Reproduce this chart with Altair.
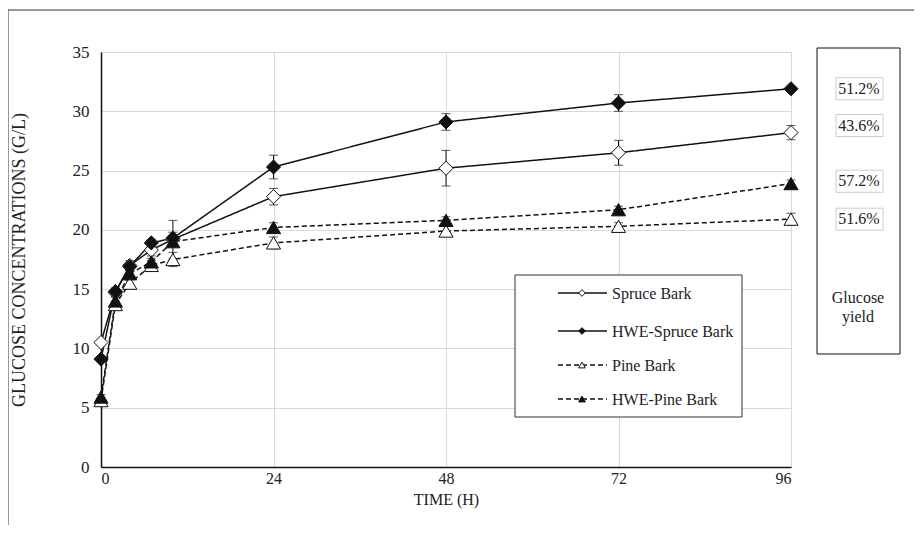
import altair as alt
import pandas as pd

# ---------------- data ----------------
times = [0, 2, 4, 7, 10, 24, 48, 72, 96]
series_names = ["Spruce Bark", "HWE-Spruce Bark", "Pine Bark", "HWE-Pine Bark"]
spruce = [10.5, 14.7, 17.0, 18.3, 19.2, 22.8, 25.2, 26.5, 28.2]
hwe_spruce = [9.1, 14.8, 16.9, 18.9, 19.3, 25.3, 29.1, 30.7, 31.9]
pine = [5.6, 13.7, 15.5, 17.0, 17.5, 18.9, 19.9, 20.3, 20.9]
hwe_pine = [5.9, 14.0, 16.3, 17.3, 19.0, 20.2, 20.8, 21.7, 23.9]
spruce_err = [0.2, 0.3, 0.4, 0.5, 1.6, 0.7, 1.5, 1.05, 0.6]
hwe_spruce_err = [0.2, 0.3, 0.3, 0.3, 0.5, 1.0, 0.7, 0.7, 0.2]
pine_err = [0.2, 0.3, 0.3, 0.4, 0.6, 0.5, 0.4, 0.3, 0.5]
hwe_pine_err = [0.2, 0.3, 0.3, 0.3, 0.4, 0.4, 0.3, 0.3, 0.3]

yield_labels = ["51.2%", "43.6%", "57.2%", "51.6%"]
yield_pos = [31.9, 28.8, 24.1, 20.9]

x_ticks = [0, 24, 48, 72, 96]
y_ticks = [0, 5, 10, 15, 20, 25, 30, 35]

FONT = "'Liberation Serif', 'Times New Roman', Times, serif"
TXT = "#222222"

rows = []
for name, vals, errs in zip(series_names,
                            [spruce, hwe_spruce, pine, hwe_pine],
                            [spruce_err, hwe_spruce_err, pine_err, hwe_pine_err]):
    for t, v, e in zip(times, vals, errs):
        rows.append({"series": name, "time": t, "value": v, "lo": v - e, "hi": v + e})
df = pd.DataFrame(rows)

ydf = pd.DataFrame({"label": yield_labels, "pos": yield_pos,
                    "lo": [p - 0.93 for p in yield_pos], "hi": [p + 0.93 for p in yield_pos]})

dash_range = [[1, 0], [1, 0], [5, 3], [5, 3]]
shape_range = ["diamond", "diamond", "triangle-up", "triangle-up"]
fill_range = ["white", "#111111", "white", "#111111"]

xs = alt.Scale(domain=[0, 96], nice=False, zero=False)
ys = alt.Scale(domain=[0, 35], nice=False)

X = alt.X("time:Q", scale=xs,
          axis=alt.Axis(values=x_ticks, title="TIME (H)", titlePadding=5,
                        labelFontSize=16, labelPadding=3))
Y = alt.Y("value:Q", scale=ys,
          axis=alt.Axis(values=y_ticks, title="GLUCOSE CONCENTRATIONS (G/L)", titlePadding=44,
                        titleFontSize=18))

base = alt.Chart(df)

lines = base.mark_line(color="#111111", strokeWidth=1.5).encode(
    x=X, y=Y,
    detail="series:N",
    strokeDash=alt.StrokeDash("series:N", scale=alt.Scale(domain=series_names, range=dash_range), legend=None),
)

err_rule = base.mark_rule(color="#111111", strokeWidth=1).encode(
    x=alt.X("time:Q", scale=xs), y=alt.Y("lo:Q", scale=ys), y2="hi:Q")
cap_lo = base.mark_tick(color="#111111", orient="horizontal", size=9, thickness=1).encode(
    x=alt.X("time:Q", scale=xs), y=alt.Y("lo:Q", scale=ys))
cap_hi = base.mark_tick(color="#111111", orient="horizontal", size=9, thickness=1).encode(
    x=alt.X("time:Q", scale=xs), y=alt.Y("hi:Q", scale=ys))

points = base.mark_point(filled=True, stroke="#111111", strokeWidth=1, opacity=1, size=200).encode(
    x=alt.X("time:Q", scale=xs), y=alt.Y("value:Q", scale=ys),
    shape=alt.Shape("series:N", scale=alt.Scale(domain=series_names, range=shape_range), legend=None),
    fill=alt.Fill("series:N", scale=alt.Scale(domain=series_names, range=fill_range), legend=None),
)

one = pd.DataFrame({"a": [0]})

# ---------------- manual legend ----------------
legend_layers = [
    alt.Chart(one).mark_rect(fill="white", stroke="#333333", strokeWidth=1).encode(
        x=alt.value(414), x2=alt.value(641), y=alt.value(223), y2=alt.value(365))
]
row_y = [241, 279, 313, 347]
for name, ry, dash, shp, fl in zip(series_names, row_y, dash_range, shape_range, fill_range):
    legend_layers.append(alt.Chart(one).mark_rule(color="#111111", strokeWidth=1.5, strokeDash=dash).encode(
        x=alt.value(457), x2=alt.value(506), y=alt.value(ry)))
    legend_layers.append(alt.Chart(one).mark_point(filled=True, fill=fl, stroke="#111111", strokeWidth=1,
                                                   shape=shp, size=45, opacity=1).encode(
        x=alt.value(481), y=alt.value(ry)))
    legend_layers.append(alt.Chart(one).mark_text(align="left", baseline="middle", font=FONT,
                                                  fontSize=16, color=TXT).encode(
        x=alt.value(511), y=alt.value(ry + 1), text=alt.value(name)))

# ---------------- glucose yield box ----------------
ybox = alt.Chart(one).mark_rect(fill="white", stroke="#111111", strokeWidth=1).encode(
    x=alt.value(716), x2=alt.value(799), y=alt.value(-4), y2=alt.value(302))
ylab_box = alt.Chart(ydf).mark_rect(fill="white", stroke="#cccccc", strokeWidth=1).encode(
    x=alt.value(735), x2=alt.value(782), y=alt.Y("lo:Q", scale=ys), y2="hi:Q")
ylab_txt = alt.Chart(ydf).mark_text(font=FONT, fontSize=16, color=TXT, baseline="middle").encode(
    x=alt.value(758), y=alt.Y("pos:Q", scale=ys), text="label:N")
ytitle1 = alt.Chart(one).mark_text(font=FONT, fontSize=16, color=TXT, baseline="middle").encode(
    x=alt.value(757), y=alt.value(246), text=alt.value("Glucose"))
ytitle2 = alt.Chart(one).mark_text(font=FONT, fontSize=16, color=TXT, baseline="middle").encode(
    x=alt.value(757), y=alt.value(265), text=alt.value("yield"))

# ---------------- outer frame ----------------
frame_top = alt.Chart(one).mark_rule(color="#333333", strokeWidth=1).encode(
    x=alt.value(-93), x2=alt.value(820), y=alt.value(-42))
frame_left = alt.Chart(one).mark_rule(color="#333333", strokeWidth=1).encode(
    x=alt.value(-93), y=alt.value(-42), y2=alt.value(480))

chart = alt.layer(
    frame_top, frame_left,
    lines, err_rule, cap_lo, cap_hi, points,
    *legend_layers,
    ybox, ylab_box, ylab_txt, ytitle1, ytitle2,
).properties(
    width=690, height=415,
    autosize=alt.AutoSizeParams(type="none"),
    padding={"left": 93, "top": 44, "right": 123, "bottom": 58},
).configure_view(stroke=None).configure_axis(
    domainColor="#111111", domainWidth=1.5, ticks=False,
    grid=True, gridColor="#d9d9d9", gridWidth=1,
    labelFont=FONT, labelFontSize=17, labelColor=TXT,
    titleFont=FONT, titleFontSize=16, titleColor=TXT, titleFontWeight="normal",
).configure_axisY(labelPadding=12)

chart.save("out.html", embed_options={"renderer": "svg", "actions": False})
